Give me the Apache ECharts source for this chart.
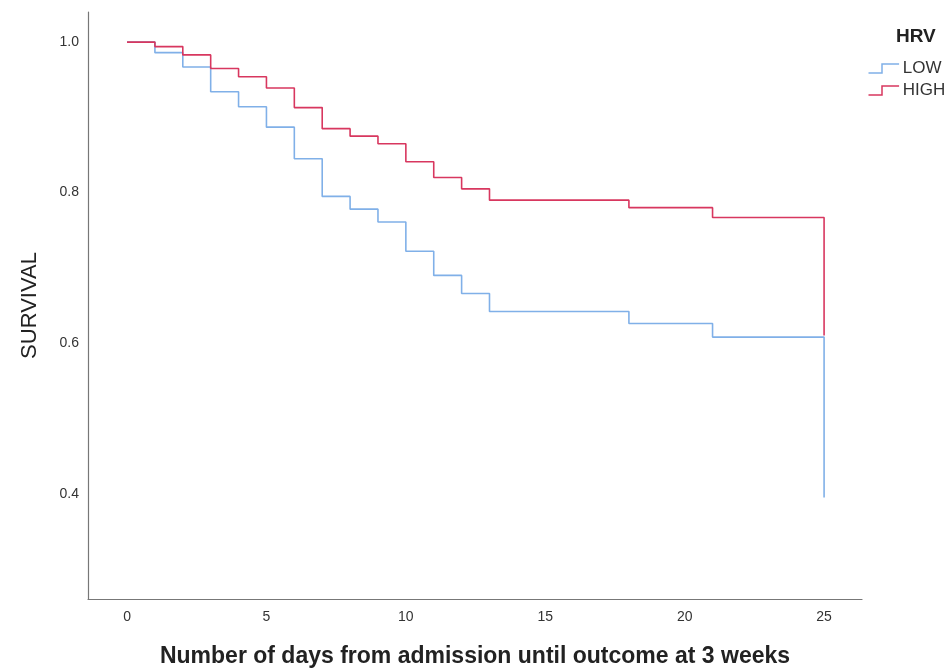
<!DOCTYPE html>
<html>
<head>
<meta charset="utf-8">
<title>HRV survival</title>
<script src="https://cdn.jsdelivr.net/npm/echarts@6.0.0/dist/echarts.min.js"></script>
<style>
  html, body { margin: 0; padding: 0; background: #fff; }
  #main { width: 949px; height: 672px; }
</style>
</head>
<body>
<div id="main"></div>
<script>
  // days at which the curves step
  var days = [0, 1, 2, 3, 4, 5, 6, 7, 8, 9, 10, 11, 12, 13, 18, 21, 25]
  // survival
  var lowSurv = [1.0, 0.986, 0.967, 0.934, 0.914, 0.887, 0.845, 0.795, 0.778, 0.761, 0.722, 0.690, 0.666, 0.642, 0.626, 0.608, 0.395]
  var highSurv = [1.0, 0.994, 0.983, 0.965, 0.954, 0.939, 0.913, 0.885, 0.875, 0.865, 0.841, 0.820, 0.805, 0.790, 0.780, 0.767, 0.610]
  var xTicks = [0, 5, 10, 15, 20, 25]
  var yTicks = [0.4, 0.6, 0.8, 1.0]

  var lowColor = '#80b0e8'
  var highColor = '#d8375f'
  var stepIcon = 'path://M0,10 L15,10 L15,0 L34,0'

  function pairs(ys) {
    return days.map(function (d, i) { return [d, ys[i]] })
  }

  var myChart = echarts.init(document.getElementById('main'))
  var option = {
    animation: false,
    title: {
      text: 'HRV',
      left: 891,
      top: 22,
      textStyle: { fontFamily: 'Liberation Sans', fontSize: 19, fontWeight: 'bold', color: '#222' }
    },
    legend: {
      orient: 'vertical',
      left: 861,
      top: 55,
      itemWidth: 34,
      itemHeight: 9,
      itemGap: 5,
      textStyle: { fontFamily: 'Liberation Sans', fontSize: 17, color: '#333', padding: [0, 0, 0, -3] },
      data: [
        { name: 'LOW', icon: stepIcon, itemStyle: { color: 'none', borderColor: lowColor, borderWidth: 1.5 } },
        { name: 'HIGH', icon: stepIcon, itemStyle: { color: 'none', borderColor: highColor, borderWidth: 1.5 } }
      ]
    },
    grid: { left: 88, top: 12, right: 87, bottom: 73, outerBoundsMode: 'none' },
    xAxis: {
      type: 'value',
      min: -1.4,
      max: 26.36,
      name: 'Number of days from admission until outcome at 3 weeks',
      nameLocation: 'middle',
      nameGap: 46,
      nameTextStyle: { fontFamily: 'Liberation Sans', fontSize: 23, fontWeight: 'bold', color: '#222' },
      axisLine: { onZero: false, lineStyle: { color: '#777', width: 1.2 } },
      axisTick: { show: false },
      splitLine: { show: false },
      axisLabel: {
        customValues: xTicks,
        margin: 11,
        fontFamily: 'Liberation Sans', fontSize: 14, color: '#333'
      }
    },
    yAxis: {
      type: 'value',
      min: 0.26,
      max: 1.04,
      name: 'SURVIVAL',
      nameLocation: 'middle',
      nameGap: 47,
      nameTextStyle: { fontFamily: 'Liberation Sans', fontSize: 22, color: '#222' },
      axisLine: { show: true, onZero: false, lineStyle: { color: '#777', width: 1.2 } },
      axisTick: { show: false },
      splitLine: { show: false },
      axisLabel: {
        customValues: yTicks,
        margin: 9,
        formatter: function (v) { return v.toFixed(1) },
        fontFamily: 'Liberation Sans', fontSize: 14, color: '#333'
      }
    },
    series: [
      {
        name: 'LOW',
        type: 'line',
        step: 'end',
        showSymbol: false,
        data: pairs(lowSurv),
        lineStyle: { color: lowColor, width: 1.6 },
        itemStyle: { color: lowColor }
      },
      {
        name: 'HIGH',
        type: 'line',
        step: 'end',
        showSymbol: false,
        data: pairs(highSurv),
        lineStyle: { color: highColor, width: 1.6 },
        itemStyle: { color: highColor }
      }
    ]
  }
  option && myChart.setOption(option)
  window.addEventListener('resize', function () {
    myChart.resize()
  })
</script>
</body>
</html>
